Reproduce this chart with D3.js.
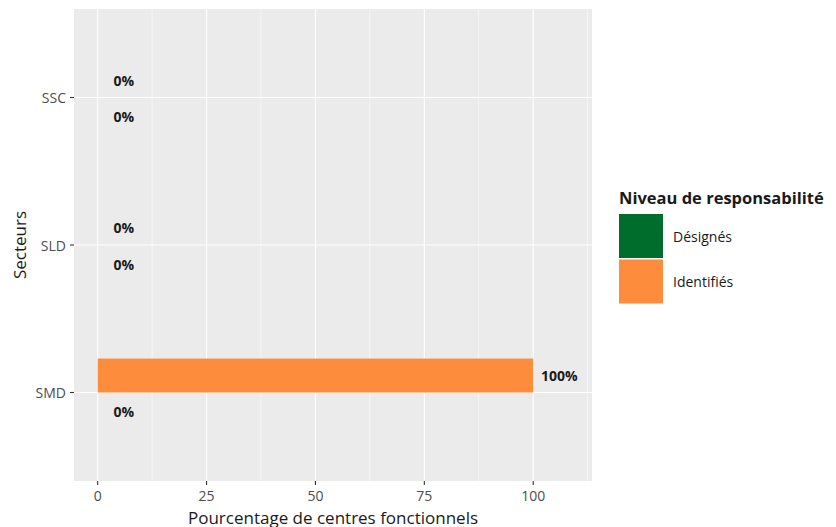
<!DOCTYPE html>
<html><head><meta charset="utf-8">
<script src="https://cdn.jsdelivr.net/npm/d3@7"></script>
<style>body{margin:0;background:#fff}svg{display:block}text{font-family:"Open Sans","Noto Sans",sans-serif}</style>
</head><body><svg id="c" width="836" height="527"></svg>
<script>
const categories = ["SSC","SLD","SMD"];
const seriesNames = ["Désignés","Identifiés"];
const designes = [0,0,0];
const identifies = [0,0,100];
const xTicks = [0,25,50,75,100];
const xMinor = [12.5,37.5,62.5,87.5,112.5];
const colors = {"Désignés":"#006d2c","Identifiés":"#fd8d3c"};

const svg = d3.select("#c");
const P = {l:74, r:592, t:9, b:481};
const x = d3.scaleLinear().domain([-5.44,113.5]).range([P.l,P.r]);
const yIdx = d3.scaleLinear().domain([-0.6, categories.length-1+0.6]).range([P.t,P.b]);
const y = c => yIdx(categories.indexOf(c));
const unit = yIdx(1)-yIdx(0);
const barH = 0.23*unit;

svg.append("rect").attr("x",P.l).attr("y",P.t).attr("width",P.r-P.l).attr("height",P.b-P.t).attr("fill","#ebebeb");
const g = svg.append("g");
xMinor.forEach(v=>g.append("line").attr("x1",x(v)).attr("x2",x(v)).attr("y1",P.t).attr("y2",P.b).attr("stroke","#fff").attr("stroke-width",0.55));
xTicks.forEach(v=>g.append("line").attr("x1",x(v)).attr("x2",x(v)).attr("y1",P.t).attr("y2",P.b).attr("stroke","#fff").attr("stroke-width",1.1));
categories.forEach(c=>g.append("line").attr("x1",P.l).attr("x2",P.r).attr("y1",y(c)).attr("y2",y(c)).attr("stroke","#fff").attr("stroke-width",1.1));

const data = [];
categories.forEach((c,i)=>{
  data.push({cat:c, s:"Identifiés", v:identifies[i], off:-1});
  data.push({cat:c, s:"Désignés", v:designes[i], off:0});
});
svg.selectAll("rect.bar").data(data).enter().append("rect").attr("class","bar")
  .attr("x",d=>x(Math.min(0,d.v))).attr("width",d=>Math.abs(x(d.v)-x(0)))
  .attr("y",d=>y(d.cat)+d.off*barH).attr("height",barH)
  .attr("fill",d=>colors[d.s]);
svg.selectAll("text.lab").data(data).enter().append("text").attr("class","lab")
  .attr("x",d=>x(d.v+6)).attr("y",d=>y(d.cat)+d.off*barH+barH/2+(d.off<0?-0.5:2.5))
  .attr("text-anchor","middle").attr("dominant-baseline","central")
  .attr("font-size",14).attr("font-weight","bold").attr("fill","#1a1a1a")
  .text(d=>d.v+"%");

const ax = svg.append("g");
xTicks.forEach(v=>{
  ax.append("line").attr("x1",x(v)).attr("x2",x(v)).attr("y1",P.b).attr("y2",P.b+4).attr("stroke","#333").attr("stroke-width",1.1);
  ax.append("text").attr("x",x(v)).attr("y",P.b+14).attr("text-anchor","middle").attr("dominant-baseline","central").attr("font-size",14).attr("fill","#4d4d4d").text(v);
});
categories.forEach(c=>{
  ax.append("line").attr("x1",P.l-4).attr("x2",P.l).attr("y1",y(c)).attr("y2",y(c)).attr("stroke","#333").attr("stroke-width",1.1);
  ax.append("text").attr("x",P.l-8).attr("y",y(c)).attr("text-anchor","end").attr("dominant-baseline","central").attr("font-size",14).attr("fill","#4d4d4d").text(c);
});
svg.append("text").attr("x",(P.l+P.r)/2).attr("y",517).attr("text-anchor","middle").attr("dominant-baseline","central").attr("font-size",17).attr("fill","#1a1a1a").text("Pourcentage de centres fonctionnels");
svg.append("text").attr("transform",`translate(19,${(P.t+P.b)/2}) rotate(-90)`).attr("text-anchor","middle").attr("dominant-baseline","central").attr("font-size",17).attr("fill","#1a1a1a").text("Secteurs");

const L = svg.append("g");
L.append("text").attr("x",619).attr("y",197).attr("dominant-baseline","central").attr("font-size",16.5).attr("font-weight","bold").attr("fill","#1a1a1a").text("Niveau de responsabilité");
seriesNames.forEach((s,i)=>{
  const yy = 214 + i*45.5;
  L.append("rect").attr("x",619).attr("y",yy).attr("width",44).attr("height",44).attr("fill",colors[s]);
  L.append("text").attr("x",673).attr("y",yy+22).attr("dominant-baseline","central").attr("font-size",14).attr("fill","#1a1a1a").text(s);
});
</script></body></html>
